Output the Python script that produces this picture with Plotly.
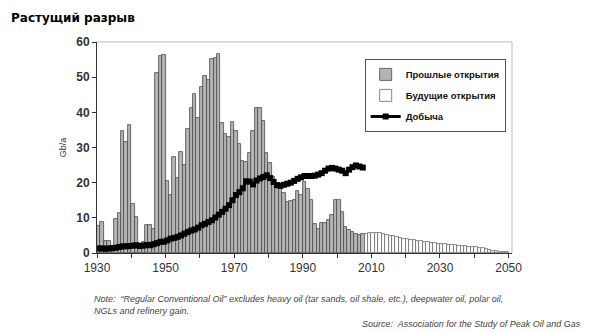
import plotly.graph_objects as go

# ---------------- data ----------------
past_years = list(range(1930, 2008))
past_discoveries = [
    7.8, 8.7, 3.4, 3.3, 0.5, 9.7, 11.3, 34.6, 31.5, 36.4,
    14.0, 10.3, 1.0, 3.2, 7.9, 8.1, 6.9, 51.2, 55.9, 56.3,
    20.5, 16.4, 27.4, 21.4, 28.6, 25.0, 35.3, 41.3, 45.1, 38.3,
    47.3, 50.2, 49.3, 55.3, 55.5, 56.7, 36.9, 33.9, 33.0, 37.2,
    34.8, 31.0, 26.3, 25.8, 28.4, 34.8, 41.1, 41.3, 37.6, 28.4,
    25.5, 21.6, 19.7, 18.5, 17.0, 14.6, 14.8, 15.0, 17.5, 16.4,
    20.2, 18.3, 15.0, 8.2, 6.8, 8.5, 8.5, 9.3, 10.8, 15.0,
    15.0, 11.8, 7.4, 6.4, 5.9, 5.5, 5.2, 5.5,
]

future_years = list(range(2008, 2050))
future_discoveries = [
    5.5, 5.6, 5.7, 5.7, 5.6, 5.3, 5.1, 4.9, 4.7, 4.5,
    4.3, 4.1, 3.9, 3.7, 3.6, 3.4, 3.3, 3.2, 3.0, 2.9,
    2.8, 2.7, 2.6, 2.5, 2.4, 2.3, 2.2, 2.1, 2.0, 1.9,
    1.8, 1.7, 1.6, 1.5, 1.3, 1.1, 0.9, 0.7, 0.5, 0.4,
    0.3, 0.2,
]

prod_years = list(range(1930, 2008))
production = [
    1.3, 1.3, 1.2, 1.3, 1.4, 1.5, 1.7, 1.9, 1.9, 2.0,
    2.1, 2.2, 2.0, 2.1, 2.3, 2.2, 2.5, 2.8, 3.2, 3.2,
    3.6, 4.1, 4.3, 4.6, 5.0, 5.5, 6.0, 6.4, 6.7, 7.2,
    7.9, 8.3, 8.8, 9.3, 10.1, 10.9, 11.7, 12.6, 13.6, 15.0,
    16.5, 17.3, 18.4, 20.4, 20.3, 19.5, 20.6, 21.2, 21.6, 22.1,
    21.3, 20.2, 19.3, 19.1, 19.4, 19.7, 20.0, 20.5, 21.1, 21.5,
    21.9, 21.9, 21.9, 22.0, 22.3, 22.7, 23.4, 24.0, 24.2, 24.0,
    23.7, 23.4, 22.7, 23.7, 24.4, 24.9, 24.6, 24.3,
]

x_tick_vals = list(range(1930, 2051, 10))
x_tick_text = [str(v) if (v - 1930) % 20 == 0 else "" for v in x_tick_vals]
y_tick_vals = [0, 10, 20, 30, 40, 50, 60]

title_text = "Растущий разрыв"
legend_names = ["Прошлые открытия", "Будущие открытия", "Добыча"]
y_title = "Gb/a"
note_text = ("Note:  “Regular Conventional Oil” excludes heavy oil (tar sands, oil shale, etc.), deepwater oil, polar oil,"
             "<br>NGLs and refinery gain.")
source_text = "Source:  Association for the Study of Peak Oil and Gas"

# ---------------- figure ----------------
fig = go.Figure()

fig.add_trace(go.Bar(
    x=[y + 0.5 for y in past_years], y=past_discoveries, width=1,
    name=legend_names[0], legendgroup="a",
    marker=dict(color="#b4b4b4", line=dict(color="#4a4a4a", width=0.8)),
))
fig.add_trace(go.Bar(
    x=[y + 0.5 for y in future_years], y=future_discoveries, width=1,
    name=legend_names[1], legendgroup="b",
    marker=dict(color="#ffffff", line=dict(color="#6a6a6a", width=0.8)),
))
fig.add_trace(go.Scatter(
    x=[y + 0.5 for y in prod_years], y=production, mode="lines+markers",
    name=legend_names[2], legendgroup="c",
    line=dict(color="#000000", width=3),
    marker=dict(symbol="square", size=6, color="#000000"),
))

fig.update_layout(
    width=590, height=332,
    margin=dict(l=97, r=78, t=42, b=79),
    paper_bgcolor="white", plot_bgcolor="white",
    barmode="overlay", bargap=0,
    showlegend=True,
    legend=dict(
        x=0.645, y=0.92, xanchor="left", yanchor="top",
        bgcolor="white", bordercolor="#555555", borderwidth=1,
        font=dict(family="Liberation Sans, Arial", size=9.5, color="#111111", weight="bold"),
        tracegroupgap=2, itemwidth=30,
    ),
    font=dict(family="Liberation Sans, Arial", color="#222222"),
    xaxis=dict(
        range=[1930, 2051], tickmode="array", tickvals=x_tick_vals, ticktext=x_tick_text,
        ticks="outside", ticklen=4, tickcolor="#333333", showgrid=False,
        showline=True, linecolor="#333333", linewidth=1, zeroline=False,
        tickfont=dict(size=12, color="#333333"),
    ),
    yaxis=dict(
        range=[0, 60], tickvals=y_tick_vals, ticks="outside", ticklen=4, tickcolor="#333333",
        showgrid=False, showline=True, linecolor="#333333", linewidth=1, zeroline=False,
        tickfont=dict(size=12, color="#333333", weight="bold"),
        title=dict(text=y_title, font=dict(size=9, color="#333333"), standoff=8),
    ),
    shapes=[
        dict(type="line", xref="paper", yref="paper", x0=0, x1=1, y0=1, y1=1,
             line=dict(color="#bbbbbb", width=1)),
        dict(type="line", xref="paper", yref="paper", x0=1, x1=1, y0=0, y1=1,
             line=dict(color="#bbbbbb", width=1)),
    ],
    annotations=[
        dict(text="<b>" + title_text + "</b>", xref="paper", yref="paper",
             x=-0.213, y=1.112, xanchor="left", yanchor="middle", showarrow=False,
             font=dict(family="DejaVu Sans", size=12, color="#000000")),
        dict(text="<i>" + note_text + "</i>", xref="paper", yref="paper",
             x=-0.012, y=-0.185, xanchor="left", yanchor="top", showarrow=False, align="left",
             font=dict(family="Liberation Sans, Arial", size=9, color="#444444")),
        dict(text="<i>" + source_text + "</i>", xref="paper", yref="paper",
             x=1.172, y=-0.338, xanchor="right", yanchor="middle", showarrow=False,
             font=dict(family="Liberation Sans, Arial", size=9, color="#444444")),
    ],
)

fig.write_html("out.html")
